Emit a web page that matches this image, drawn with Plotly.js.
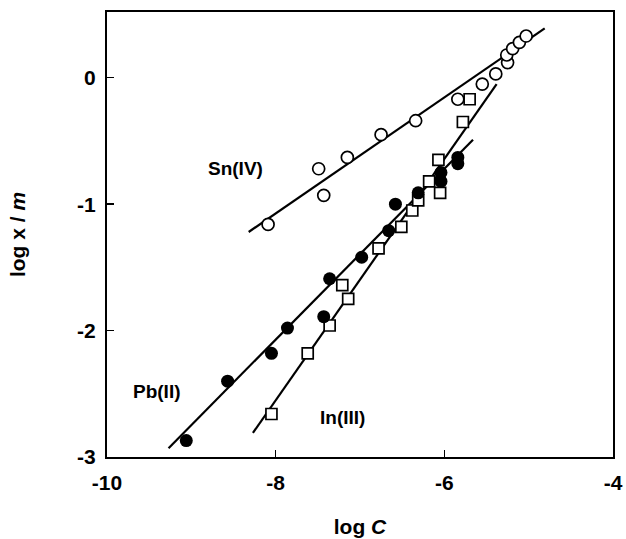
<!DOCTYPE html>
<html>
<head>
<meta charset="utf-8">
<script src="https://cdn.plot.ly/plotly-3.0.1.min.js"></script>
<style>html,body{margin:0;padding:0;background:#fff;}#chart{width:626px;height:539px;}</style>
</head>
<body>
<div id="chart"></div>
<script>
// Sn(IV) – open circles
var snX = [-8.09, -7.49, -7.43, -7.15, -6.75, -6.34, -5.84, -5.55, -5.39, -5.25, -5.26, -5.19, -5.11, -5.03];
var snY = [-1.16, -0.72, -0.93, -0.63, -0.45, -0.34, -0.17, -0.05, 0.03, 0.12, 0.18, 0.23, 0.28, 0.33];
var snFitX = [-8.32, -4.81];
var snFitY = [-1.22, 0.39];

// Pb(II) – filled circles
var pbX = [-9.06, -8.57, -8.05, -7.86, -7.43, -7.36, -6.98, -6.66, -6.58, -6.31, -6.04, -6.04, -5.84, -5.84];
var pbY = [-2.87, -2.40, -2.18, -1.98, -1.89, -1.59, -1.42, -1.21, -1.00, -0.91, -0.82, -0.75, -0.68, -0.63];
var pbFitX = [-9.27, -5.66];
var pbFitY = [-2.93, -0.49];

// In(III) – open squares
var inX = [-8.05, -7.62, -7.36, -7.14, -7.21, -6.78, -6.51, -6.38, -6.31, -6.18, -6.07, -6.05, -5.78, -5.70];
var inY = [-2.66, -2.18, -1.96, -1.75, -1.64, -1.35, -1.18, -1.05, -0.97, -0.82, -0.65, -0.91, -0.35, -0.17];
var inFitX = [-8.27, -5.38];
var inFitY = [-2.81, -0.05];

var xTicks = [-10, -8, -6, -4];
var yTicks = [-3, -2, -1, 0];

var FAM = 'Liberation Sans, Arial, Helvetica, sans-serif';
var lineStyle = {color: '#000', width: 2.2};
var traces = [
  {x: snFitX, y: snFitY, mode: 'lines', line: lineStyle, hoverinfo: 'skip'},
  {x: pbFitX, y: pbFitY, mode: 'lines', line: lineStyle, hoverinfo: 'skip'},
  {x: inFitX, y: inFitY, mode: 'lines', line: lineStyle, hoverinfo: 'skip'},
  {x: snX, y: snY, mode: 'markers', name: 'Sn(IV)',
   marker: {symbol: 'circle', size: 12, color: '#fff', line: {color: '#000', width: 1.7}}},
  {x: inX, y: inY, mode: 'markers', name: 'In(III)',
   marker: {symbol: 'square', size: 11, color: '#fff', line: {color: '#000', width: 1.7}}},
  {x: pbX, y: pbY, mode: 'markers', name: 'Pb(II)',
   marker: {symbol: 'circle', size: 13, color: '#000', line: {color: '#000', width: 0}}}
];

var tickFont = {family: FAM, size: 21, color: '#000', weight: 700};
var layout = {
  width: 626, height: 539,
  margin: {l: 107, r: 13, t: 12, b: 82},
  paper_bgcolor: '#fff', plot_bgcolor: '#fff',
  showlegend: false,
  xaxis: {
    range: [-10, -4], tickvals: xTicks, ticktext: xTicks.map(String),
    ticks: 'inside', ticklen: 7, tickwidth: 1.5, tickcolor: '#000',
    showline: true, linewidth: 2, linecolor: '#000', mirror: true,
    showgrid: false, zeroline: false, tickfont: tickFont, ticklabelstandoff: 6,
    title: {text: 'log <i>C</i>', font: {family: FAM, size: 21, color: '#000', weight: 700}, standoff: 26}
  },
  yaxis: {
    range: [-3, 0.52], tickvals: yTicks, ticktext: yTicks.map(String),
    ticks: 'inside', ticklen: 7, tickwidth: 1.5, tickcolor: '#000',
    showline: true, linewidth: 2, linecolor: '#000', mirror: true,
    showgrid: false, zeroline: false, tickfont: tickFont, ticklabelstandoff: 5,
    title: {text: 'log x / <i>m</i>', font: {family: FAM, size: 21, color: '#000', weight: 700}, standoff: 46}
  },
  annotations: [
    {x: -8.48, y: -0.72, xref: 'x', yref: 'y', text: 'Sn(IV)', showarrow: false,
     font: {family: FAM, size: 19, color: '#000', weight: 700}},
    {x: -9.41, y: -2.48, xref: 'x', yref: 'y', text: 'Pb(II)', showarrow: false,
     font: {family: FAM, size: 19, color: '#000', weight: 700}},
    {x: -7.21, y: -2.69, xref: 'x', yref: 'y', text: 'In(III)', showarrow: false,
     font: {family: FAM, size: 19, color: '#000', weight: 700}}
  ]
};

Plotly.newPlot('chart', traces, layout, {displayModeBar: false, staticPlot: true});
</script>
</body>
</html>
